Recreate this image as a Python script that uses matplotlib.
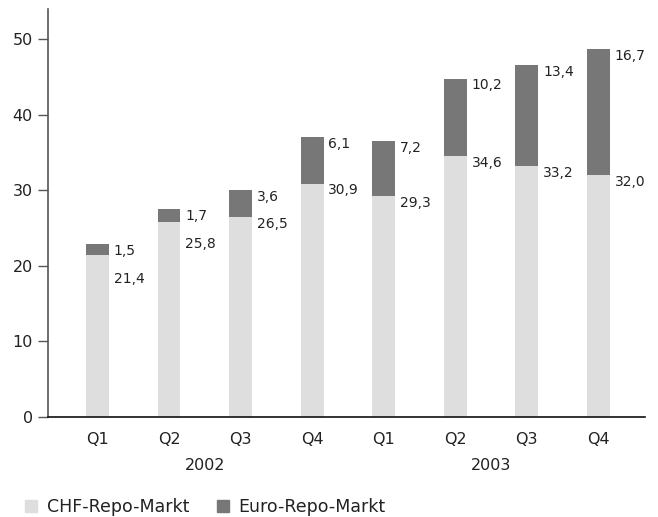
import matplotlib.pyplot as plt
from matplotlib.patches import Patch

# ==================================================
#   Data (Mrd. CHF)
quarters = ['Q1', 'Q2', 'Q3', 'Q4', 'Q1', 'Q2', 'Q3', 'Q4']
years = ['2002', '2003']
chf = [21.4, 25.8, 26.5, 30.9, 29.3, 34.6, 33.2, 32.0]
euro = [1.5, 1.7, 3.6, 6.1, 7.2, 10.2, 13.4, 16.7]
yticks = [0, 10, 20, 30, 40, 50]

c_chf = '#dedede'
c_euro = '#777777'
c_text = '#222222'

# ==================================================
fig = plt.figure(figsize=(6.58, 5.17), dpi=100)
ax = fig.add_axes([0.073, 0.1934, 0.907, 0.7892])

x = list(range(len(quarters)))
ax.bar(x, chf, width=0.32, color=c_chf, linewidth=0)
ax.bar(x, euro, width=0.32, bottom=chf, color=c_euro, linewidth=0)

for i in x:
    top = chf[i] + euro[i]
    ax.annotate(f'{euro[i]:.1f}'.replace('.', ','), (i + 0.16, top),
                xytext=(3.5, -5), textcoords='offset points',
                ha='left', va='center', fontsize=10, color=c_text)
    ychf = min(chf[i], top - 3.7)
    ax.annotate(f'{chf[i]:.1f}'.replace('.', ','), (i + 0.16, ychf),
                xytext=(3.5, -5), textcoords='offset points',
                ha='left', va='center', fontsize=10, color=c_text)

ax.set_xlim(-0.69, 7.65)
ax.set_ylim(0, 54)
ax.set_xticks(x)
ax.set_xticklabels(quarters, fontsize=11.5, color=c_text)
ax.set_yticks(yticks)
ax.set_yticklabels([str(t) for t in yticks], fontsize=11.5, color=c_text)
ax.tick_params(axis='x', length=0, pad=11)
ax.tick_params(axis='y', length=7, width=1, color='#555555', pad=4)

for s in ['top', 'right']:
    ax.spines[s].set_visible(False)
ax.spines['left'].set_color('#555555')
ax.spines['left'].set_linewidth(1.2)
ax.spines['bottom'].set_color('#111111')
ax.spines['bottom'].set_linewidth(1.2)

# Jahresbeschriftung
for k, yr in enumerate(years):
    ax.text(1.5 + 4 * k, -0.118, yr, transform=ax.get_xaxis_transform(),
            ha='center', va='center', fontsize=11.5, color=c_text)

handles = [Patch(color=c_chf, label='CHF-Repo-Markt'),
           Patch(color=c_euro, label='Euro-Repo-Markt')]
fig.legend(handles=handles, loc='center left', bbox_to_anchor=(0.038, 0.02),
           ncol=2, frameon=False, fontsize=12.5, handlelength=0.7,
           handleheight=0.7, handletextpad=0.55, columnspacing=1.6,
           labelcolor=c_text, borderaxespad=0, borderpad=0)

fig.savefig('out.png', dpi=100)
